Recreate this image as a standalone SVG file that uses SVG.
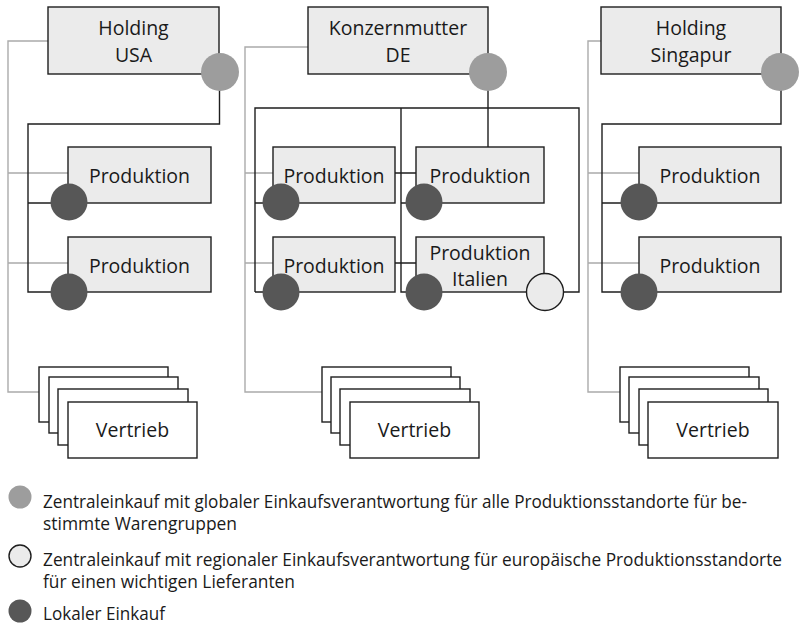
<svg xmlns="http://www.w3.org/2000/svg" width="799" height="625" viewBox="0 0 799 625">
<style>
.box{fill:#ebebeb;stroke:#1e1e1e;stroke-width:1.4}
.vt{fill:#ffffff;stroke:#1e1e1e;stroke-width:1.4}
.lbl{font-family:"Open Sans","Noto Sans","DejaVu Sans",sans-serif;font-size:19.5px;fill:#1a1a1a;text-anchor:middle}
.leg{font-family:"Open Sans","Noto Sans","DejaVu Sans",sans-serif;font-size:17.5px;fill:#1a1a1a}
.central{fill:#9d9d9d}
.local{fill:#575757}
.regional{fill:#ebebeb;stroke:#1e1e1e;stroke-width:1.4}
.gray{fill:none;stroke:#ababab;stroke-width:1.4}
.black{fill:none;stroke:#1e1e1e;stroke-width:1.4}
</style>
<rect width="799" height="625" fill="#ffffff"/>
<g id="connectors">
  <path class="gray" d="M48,41 H8 V392 H39 M8,173 H68 M8,263 H68"/>
  <path class="gray" d="M308,47 H245 V392 H322 M245,173 H273 M245,263 H273"/>
  <path class="gray" d="M601,41 H588 V392 H620 M588,173 H639 M588,263 H639"/>
  <path class="black" d="M219.5,74 V124 H28 V292 H69 M28,203 H69"/>
  <path class="black" d="M488,90 V147 M255,292 V108 H579 V292 H545 M401,108 V292 H424 M255,203 H281 M401,203 H424 M255,292 H281 M395,173 H416 M395,263 H416"/>
  <path class="black" d="M781,74 V124 H602 V292 H639 M602,203 H639"/>
</g>
<g id="holding-usa">
  <rect class="box" x="48" y="7" width="171" height="67"/>
  <text class="lbl" x="133.5" y="35">Holding</text>
  <text class="lbl" x="133.5" y="62">USA</text>
  <circle class="central" cx="220" cy="72" r="19"/>
</g>
<g id="konzernmutter-de">
  <rect class="box" x="308" y="7" width="180" height="67"/>
  <text class="lbl" x="398" y="35">Konzernmutter</text>
  <text class="lbl" x="398" y="62">DE</text>
  <circle class="central" cx="488" cy="72" r="19"/>
</g>
<g id="holding-singapur">
  <rect class="box" x="601" y="7" width="180" height="67"/>
  <text class="lbl" x="691" y="35">Holding</text>
  <text class="lbl" x="691" y="62">Singapur</text>
  <circle class="central" cx="780" cy="72" r="19"/>
</g>
<g id="usa-produktion-1">
  <rect class="box" x="68" y="147" width="143" height="56"/>
  <text class="lbl" x="139.5" y="183">Produktion</text>
  <circle class="local" cx="69" cy="202" r="18.5"/>
</g>
<g id="usa-produktion-2">
  <rect class="box" x="68" y="237" width="143" height="55"/>
  <text class="lbl" x="139.5" y="273">Produktion</text>
  <circle class="local" cx="69" cy="292" r="18.5"/>
</g>
<g id="de-produktion-1">
  <rect class="box" x="273" y="147" width="122" height="56"/>
  <text class="lbl" x="334" y="183">Produktion</text>
  <circle class="local" cx="281" cy="202" r="18.5"/>
</g>
<g id="de-produktion-2">
  <rect class="box" x="273" y="237" width="122" height="55"/>
  <text class="lbl" x="334" y="273">Produktion</text>
  <circle class="local" cx="281" cy="292" r="18.5"/>
</g>
<g id="de-produktion-3">
  <rect class="box" x="416" y="147" width="128" height="56"/>
  <text class="lbl" x="480" y="183">Produktion</text>
  <circle class="local" cx="424" cy="202" r="18.5"/>
</g>
<g id="de-produktion-italien">
  <rect class="box" x="416" y="237" width="128" height="55"/>
  <text class="lbl" x="480" y="260">Produktion</text>
  <text class="lbl" x="480" y="286">Italien</text>
  <circle class="local" cx="424" cy="292" r="18.5"/>
  <circle class="regional" cx="545" cy="292" r="18.5"/>
</g>
<g id="sg-produktion-1">
  <rect class="box" x="639" y="147" width="142" height="56"/>
  <text class="lbl" x="710" y="183">Produktion</text>
  <circle class="local" cx="639" cy="202" r="18.5"/>
</g>
<g id="sg-produktion-2">
  <rect class="box" x="639" y="237" width="142" height="55"/>
  <text class="lbl" x="710" y="273">Produktion</text>
  <circle class="local" cx="639" cy="292" r="18.5"/>
</g>
<g id="usa-vertrieb">
  <rect class="vt" x="39" y="367" width="129" height="55"/>
  <rect class="vt" x="49" y="377" width="129" height="56"/>
  <rect class="vt" x="58" y="389" width="130" height="56"/>
  <rect class="vt" x="68" y="402" width="129" height="56"/>
  <text class="lbl" x="132.5" y="437">Vertrieb</text>
</g>
<g id="de-vertrieb">
  <rect class="vt" x="322" y="367" width="129" height="55"/>
  <rect class="vt" x="331" y="377" width="129" height="56"/>
  <rect class="vt" x="340" y="389" width="130" height="56"/>
  <rect class="vt" x="350" y="402" width="129" height="56"/>
  <text class="lbl" x="414.5" y="437">Vertrieb</text>
</g>
<g id="sg-vertrieb">
  <rect class="vt" x="620" y="367" width="129" height="55"/>
  <rect class="vt" x="629" y="377" width="130" height="56"/>
  <rect class="vt" x="639" y="389" width="129" height="56"/>
  <rect class="vt" x="648" y="402" width="130" height="56"/>
  <text class="lbl" x="713" y="437">Vertrieb</text>
</g>
<g id="legend">
  <circle class="central" cx="20" cy="497" r="11.5"/>
  <text class="leg" x="43" y="508" textLength="704" lengthAdjust="spacingAndGlyphs">Zentraleinkauf mit globaler Einkaufsverantwortung für alle Produktionsstandorte für be-</text>
  <text class="leg" x="43" y="530" textLength="194" lengthAdjust="spacingAndGlyphs">stimmte Warengruppen</text>
  <circle class="regional" cx="20" cy="556" r="11"/>
  <text class="leg" x="43" y="566" textLength="739" lengthAdjust="spacingAndGlyphs">Zentraleinkauf mit regionaler Einkaufsverantwortung für europäische Produktionsstandorte</text>
  <text class="leg" x="43" y="588" textLength="252" lengthAdjust="spacingAndGlyphs">für einen wichtigen Lieferanten</text>
  <circle class="local" cx="20" cy="611" r="11.5"/>
  <text class="leg" x="43" y="620" textLength="122" lengthAdjust="spacingAndGlyphs">Lokaler Einkauf</text>
</g>
</svg>
